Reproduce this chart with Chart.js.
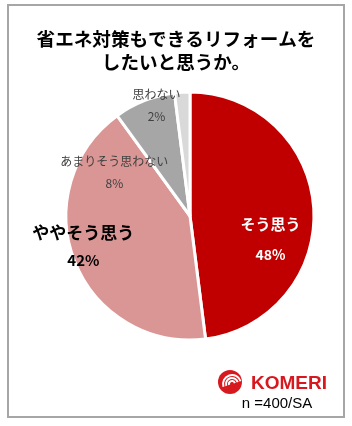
<!DOCTYPE html>
<html>
<head>
<meta charset="utf-8">
<script src="https://cdn.jsdelivr.net/npm/chart.js@4/dist/chart.umd.min.js"></script>
<style>
  html, body { margin: 0; padding: 0; background: #fff; }
  #wrap { width: 352px; height: 426px; }
</style>
</head>
<body>
<div id="wrap"><canvas id="pie"></canvas></div>
<script>
var titleLines = ["省エネ対策もできるリフォームを", "したいと思うか。"];
var categories = ["そう思う", "ややそう思う", "あまりそう思わない", "思わない"];
var shares = [48, 42, 8, 2]; // percent, n=400
var sliceColors = ["#C00000", "#D99694", "#A6A6A6", "#D9D9D9"];
var footNote = "n =400/SA";

var jp = '"Noto Sans CJK JP", "Noto Sans", sans-serif';

// label placement, in units of the radius from the pie centre
var labelStyle = [
    {dx: 0.65, dy: 0.07, font: "bold 15px " + jp, pfont: "bold 14px " + jp, color: "#fff", gap: 30},
    {dx: -0.86, dy: 0.13, font: "bold 17px " + jp, pfont: "bold 15px " + jp, color: "#000", gap: 28},
    {dx: -0.61, dy: -0.44, font: "12px " + jp, pfont: "12px " + jp, color: "#404040", gap: 22},
    {dx: -0.27, dy: -0.98, font: "12px " + jp, pfont: "12px " + jp, color: "#404040", gap: 22}
];

var decor = {
    id: "decor",
    beforeDraw: function(chart){
        var c = chart.ctx;
        c.save();
        c.strokeStyle = "#A6A6A6";
        c.lineWidth = 2;
        c.strokeRect(8, 5, 336, 412);
        c.fillStyle = "#000";
        c.textAlign = "center";
        c.textBaseline = "middle";
        c.font = "bold 18.6px " + jp;
        titleLines.forEach(function(t, i){
            c.fillText(t, 176, 39 + i * 23);
        });
        c.restore();
    },
    afterDraw: function(chart){
        var c = chart.ctx;
        var arcs = chart.getDatasetMeta(0).data;
        c.save();
        c.textAlign = "center";
        c.textBaseline = "middle";
        arcs.forEach(function(a, i){
            var s = labelStyle[i];
            var x = a.x + s.dx * a.outerRadius;
            var y = a.y + s.dy * a.outerRadius;
            c.fillStyle = s.color;
            c.font = s.font;
            c.fillText(categories[i], x, y);
            c.font = s.pfont;
            c.fillText(shares[i] + "%", x, y + s.gap);
        });

        // logo
        c.fillStyle = "#D7191F";
        c.beginPath();
        c.arc(230, 382, 12, 0, Math.PI * 2);
        c.fill();
        c.strokeStyle = "#fff";
        c.lineWidth = 2;
        for (var k = 0; k < 3; k++) {
            c.beginPath();
            c.arc(232, 384, 3 + k * 3, Math.PI * 0.9, Math.PI * 1.9);
            c.stroke();
        }
        c.fillStyle = "#D7191F";
        c.font = "bold 19px 'Liberation Sans', Arial, sans-serif";
        c.fillText("KOMERI", 289, 384);
        c.fillStyle = "#000";
        c.font = "15px 'Liberation Sans', Arial, sans-serif";
        c.fillText(footNote, 277, 404);
        c.restore();
    }
};

new Chart(document.getElementById("pie").getContext("2d"), {
    type: "pie",
    data: {
        labels: categories,
        datasets: [{
            data: shares,
            backgroundColor: sliceColors,
            borderColor: "#fff",
            borderWidth: 3
        }]
    },
    options: {
        responsive: true,
        maintainAspectRatio: false,
        animation: false,
        radius: 124,
        layout: {padding: {left: 64, right: 36, top: 90, bottom: 84}},
        plugins: {
            legend: {display: false},
            tooltip: {enabled: false}
        }
    },
    plugins: [decor]
});
</script>
</body>
</html>
